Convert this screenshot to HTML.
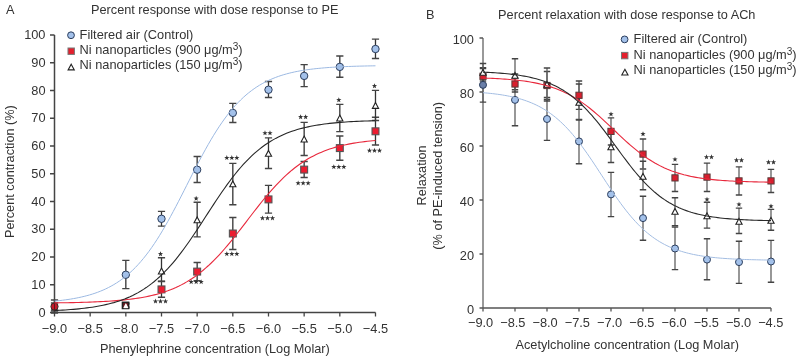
<!DOCTYPE html><html><head><meta charset="utf-8"><style>html,body{margin:0;padding:0;background:#fff;width:800px;height:361px;overflow:hidden}svg{display:block;will-change:transform}text{font-family:"Liberation Sans",sans-serif;fill:#333}</style></head><body>
<svg width="800" height="361" viewBox="0 0 800 361">

<text x="6" y="13.5" font-size="12.72" text-anchor="start" >A</text>
<text x="91" y="13.5" font-size="12.72" text-anchor="start" >Percent response with dose response to PE</text>
<path d="M54.5,35.0 V312.5 H375.485" stroke="#444" stroke-width="1.5" fill="none"/>
<text x="45.5" y="316.70" font-size="12.8" text-anchor="end" >0</text>
<text x="45.5" y="288.95" font-size="12.8" text-anchor="end" >10</text>
<text x="45.5" y="261.20" font-size="12.8" text-anchor="end" >20</text>
<text x="45.5" y="233.45" font-size="12.8" text-anchor="end" >30</text>
<text x="45.5" y="205.70" font-size="12.8" text-anchor="end" >40</text>
<text x="45.5" y="177.95" font-size="12.8" text-anchor="end" >50</text>
<text x="45.5" y="150.20" font-size="12.8" text-anchor="end" >60</text>
<text x="45.5" y="122.45" font-size="12.8" text-anchor="end" >70</text>
<text x="45.5" y="94.70" font-size="12.8" text-anchor="end" >80</text>
<text x="45.5" y="66.95" font-size="12.8" text-anchor="end" >90</text>
<text x="45.5" y="39.20" font-size="12.8" text-anchor="end" >100</text>
<text x="54.50" y="332.6" font-size="12.8" text-anchor="middle" >−9.0</text>
<text x="90.16" y="332.6" font-size="12.8" text-anchor="middle" >−8.5</text>
<text x="125.83" y="332.6" font-size="12.8" text-anchor="middle" >−8.0</text>
<text x="161.50" y="332.6" font-size="12.8" text-anchor="middle" >−7.5</text>
<text x="197.16" y="332.6" font-size="12.8" text-anchor="middle" >−7.0</text>
<text x="232.82" y="332.6" font-size="12.8" text-anchor="middle" >−6.5</text>
<text x="268.49" y="332.6" font-size="12.8" text-anchor="middle" >−6.0</text>
<text x="304.15" y="332.6" font-size="12.8" text-anchor="middle" >−5.5</text>
<text x="339.82" y="332.6" font-size="12.8" text-anchor="middle" >−5.0</text>
<text x="375.49" y="332.6" font-size="12.8" text-anchor="middle" >−4.5</text>
<path d="M50.0,312.50 H54.5 M50.0,284.75 H54.5 M50.0,257.00 H54.5 M50.0,229.25 H54.5 M50.0,201.50 H54.5 M50.0,173.75 H54.5 M50.0,146.00 H54.5 M50.0,118.25 H54.5 M50.0,90.50 H54.5 M50.0,62.75 H54.5 M50.0,35.00 H54.5 M54.50,312.5 V316.5 M90.16,312.5 V316.5 M125.83,312.5 V316.5 M161.50,312.5 V316.5 M197.16,312.5 V316.5 M232.82,312.5 V316.5 M268.49,312.5 V316.5 M304.15,312.5 V316.5 M339.82,312.5 V316.5 M375.49,312.5 V316.5" stroke="#444" stroke-width="1.3" fill="none"/>
<text x="214.9" y="353.2" font-size="12.72" text-anchor="middle" >Phenylephrine concentration (Log Molar)</text>
<text x="0" y="0" font-size="12.72" text-anchor="middle" transform="translate(13.6,171.6) rotate(-90)">Percent contraction (%)</text>
<path d="M54.5,300 V313" stroke="#333" stroke-width="1.3" fill="none"/>
<path d="M50.9,300 H58.1 M50.9,313 H58.1" stroke="#444" stroke-width="1.3" fill="none"/>
<path d="M125.83,260.4 V288.6" stroke="#333" stroke-width="1.3" fill="none"/>
<path d="M122.23,260.4 H129.43 M122.23,288.6 H129.43" stroke="#444" stroke-width="1.3" fill="none"/>
<path d="M161.495,211.4 V226.2" stroke="#333" stroke-width="1.3" fill="none"/>
<path d="M157.895,211.4 H165.095 M157.895,226.2 H165.095" stroke="#444" stroke-width="1.3" fill="none"/>
<path d="M197.16,156.5 V182.5" stroke="#333" stroke-width="1.3" fill="none"/>
<path d="M193.56,156.5 H200.76 M193.56,182.5 H200.76" stroke="#444" stroke-width="1.3" fill="none"/>
<path d="M232.825,103.4 V122.5" stroke="#333" stroke-width="1.3" fill="none"/>
<path d="M229.225,103.4 H236.42499999999998 M229.225,122.5 H236.42499999999998" stroke="#444" stroke-width="1.3" fill="none"/>
<path d="M268.49,81.5 V97.5" stroke="#333" stroke-width="1.3" fill="none"/>
<path d="M264.89,81.5 H272.09000000000003 M264.89,97.5 H272.09000000000003" stroke="#444" stroke-width="1.3" fill="none"/>
<path d="M304.155,64.6 V86.6" stroke="#333" stroke-width="1.3" fill="none"/>
<path d="M300.55499999999995,64.6 H307.755 M300.55499999999995,86.6 H307.755" stroke="#444" stroke-width="1.3" fill="none"/>
<path d="M339.82,56 V77.25" stroke="#333" stroke-width="1.3" fill="none"/>
<path d="M336.21999999999997,56 H343.42 M336.21999999999997,77.25 H343.42" stroke="#444" stroke-width="1.3" fill="none"/>
<path d="M375.485,39.1 V58.5" stroke="#333" stroke-width="1.3" fill="none"/>
<path d="M371.885,39.1 H379.08500000000004 M371.885,58.5 H379.08500000000004" stroke="#444" stroke-width="1.3" fill="none"/>
<path d="M54.5,303 V310" stroke="#333" stroke-width="1.3" fill="none"/>
<path d="M50.9,303 H58.1 M50.9,310 H58.1" stroke="#444" stroke-width="1.3" fill="none"/>
<path d="M125.83,303 V308" stroke="#333" stroke-width="1.3" fill="none"/>
<path d="M122.23,303 H129.43 M122.23,308 H129.43" stroke="#444" stroke-width="1.3" fill="none"/>
<path d="M161.495,281.5 V297.25" stroke="#333" stroke-width="1.3" fill="none"/>
<path d="M157.895,281.5 H165.095 M157.895,297.25 H165.095" stroke="#444" stroke-width="1.3" fill="none"/>
<path d="M197.16,262.5 V280.7" stroke="#333" stroke-width="1.3" fill="none"/>
<path d="M193.56,262.5 H200.76 M193.56,280.7 H200.76" stroke="#444" stroke-width="1.3" fill="none"/>
<path d="M232.825,217.5 V249.5" stroke="#333" stroke-width="1.3" fill="none"/>
<path d="M229.225,217.5 H236.42499999999998 M229.225,249.5 H236.42499999999998" stroke="#444" stroke-width="1.3" fill="none"/>
<path d="M268.49,185.4 V213.1" stroke="#333" stroke-width="1.3" fill="none"/>
<path d="M264.89,185.4 H272.09000000000003 M264.89,213.1 H272.09000000000003" stroke="#444" stroke-width="1.3" fill="none"/>
<path d="M304.155,161.5 V177.5" stroke="#333" stroke-width="1.3" fill="none"/>
<path d="M300.55499999999995,161.5 H307.755 M300.55499999999995,177.5 H307.755" stroke="#444" stroke-width="1.3" fill="none"/>
<path d="M339.82,136 V160.25" stroke="#333" stroke-width="1.3" fill="none"/>
<path d="M336.21999999999997,136 H343.42 M336.21999999999997,160.25 H343.42" stroke="#444" stroke-width="1.3" fill="none"/>
<path d="M375.485,117.25 V145" stroke="#333" stroke-width="1.3" fill="none"/>
<path d="M371.885,117.25 H379.08500000000004 M371.885,145 H379.08500000000004" stroke="#444" stroke-width="1.3" fill="none"/>
<path d="M54.5,305 V311" stroke="#333" stroke-width="1.3" fill="none"/>
<path d="M50.9,305 H58.1 M50.9,311 H58.1" stroke="#444" stroke-width="1.3" fill="none"/>
<path d="M125.83,304 V307" stroke="#333" stroke-width="1.3" fill="none"/>
<path d="M122.23,304 H129.43 M122.23,307 H129.43" stroke="#444" stroke-width="1.3" fill="none"/>
<path d="M161.495,257.75 V281.25" stroke="#333" stroke-width="1.3" fill="none"/>
<path d="M157.895,257.75 H165.095 M157.895,281.25 H165.095" stroke="#444" stroke-width="1.3" fill="none"/>
<path d="M197.16,202.25 V236.9" stroke="#333" stroke-width="1.3" fill="none"/>
<path d="M193.56,202.25 H200.76 M193.56,236.9 H200.76" stroke="#444" stroke-width="1.3" fill="none"/>
<path d="M232.825,163.4 V204.75" stroke="#333" stroke-width="1.3" fill="none"/>
<path d="M229.225,163.4 H236.42499999999998 M229.225,204.75 H236.42499999999998" stroke="#444" stroke-width="1.3" fill="none"/>
<path d="M268.49,137.9 V168.5" stroke="#333" stroke-width="1.3" fill="none"/>
<path d="M264.89,137.9 H272.09000000000003 M264.89,168.5 H272.09000000000003" stroke="#444" stroke-width="1.3" fill="none"/>
<path d="M304.155,122.3 V155.5" stroke="#333" stroke-width="1.3" fill="none"/>
<path d="M300.55499999999995,122.3 H307.755 M300.55499999999995,155.5 H307.755" stroke="#444" stroke-width="1.3" fill="none"/>
<path d="M339.82,104.4 V131.6" stroke="#333" stroke-width="1.3" fill="none"/>
<path d="M336.21999999999997,104.4 H343.42 M336.21999999999997,131.6 H343.42" stroke="#444" stroke-width="1.3" fill="none"/>
<path d="M375.485,90.4 V120.5" stroke="#333" stroke-width="1.3" fill="none"/>
<path d="M371.885,90.4 H379.08500000000004 M371.885,120.5 H379.08500000000004" stroke="#444" stroke-width="1.3" fill="none"/>
<circle cx="125.83" cy="274.75" r="3.7" fill="#a3c1ea" stroke="#2b3d5c" stroke-width="1"/>
<circle cx="161.495" cy="218.8" r="3.7" fill="#a3c1ea" stroke="#2b3d5c" stroke-width="1"/>
<circle cx="197.16" cy="169.75" r="3.7" fill="#a3c1ea" stroke="#2b3d5c" stroke-width="1"/>
<circle cx="232.825" cy="112.9" r="3.7" fill="#a3c1ea" stroke="#2b3d5c" stroke-width="1"/>
<circle cx="268.49" cy="89.75" r="3.7" fill="#a3c1ea" stroke="#2b3d5c" stroke-width="1"/>
<circle cx="304.155" cy="75.9" r="3.7" fill="#a3c1ea" stroke="#2b3d5c" stroke-width="1"/>
<circle cx="339.82" cy="66.9" r="3.7" fill="#a3c1ea" stroke="#2b3d5c" stroke-width="1"/>
<circle cx="375.485" cy="49" r="3.7" fill="#a3c1ea" stroke="#2b3d5c" stroke-width="1"/>
<rect x="158.04500000000002" y="285.95" width="6.9" height="6.9" fill="#ec1c30" stroke="#555" stroke-width="1.1"/>
<rect x="193.71" y="268.15000000000003" width="6.9" height="6.9" fill="#ec1c30" stroke="#555" stroke-width="1.1"/>
<rect x="229.375" y="230.05" width="6.9" height="6.9" fill="#ec1c30" stroke="#555" stroke-width="1.1"/>
<rect x="265.04" y="195.95000000000002" width="6.9" height="6.9" fill="#ec1c30" stroke="#555" stroke-width="1.1"/>
<rect x="300.705" y="166.15" width="6.9" height="6.9" fill="#ec1c30" stroke="#555" stroke-width="1.1"/>
<rect x="336.37" y="144.65" width="6.9" height="6.9" fill="#ec1c30" stroke="#555" stroke-width="1.1"/>
<rect x="372.035" y="127.85000000000001" width="6.9" height="6.9" fill="#ec1c30" stroke="#555" stroke-width="1.1"/>
<path d="M161.495,268.09999999999997 L164.595,274.0 L158.395,274.0 Z" fill="#fff" stroke="#222" stroke-width="1.1" stroke-linejoin="miter"/>
<path d="M197.16,216.89999999999998 L200.26,222.8 L194.06,222.8 Z" fill="#fff" stroke="#222" stroke-width="1.1" stroke-linejoin="miter"/>
<path d="M232.825,180.89999999999998 L235.92499999999998,186.8 L229.725,186.8 Z" fill="#fff" stroke="#222" stroke-width="1.1" stroke-linejoin="miter"/>
<path d="M268.49,150.39999999999998 L271.59000000000003,156.3 L265.39,156.3 Z" fill="#fff" stroke="#222" stroke-width="1.1" stroke-linejoin="miter"/>
<path d="M304.155,136.09999999999997 L307.255,142.0 L301.05499999999995,142.0 Z" fill="#fff" stroke="#222" stroke-width="1.1" stroke-linejoin="miter"/>
<path d="M339.82,115.10000000000001 L342.92,121.0 L336.71999999999997,121.0 Z" fill="#fff" stroke="#222" stroke-width="1.1" stroke-linejoin="miter"/>
<path d="M375.485,102.5 L378.58500000000004,108.39999999999999 L372.385,108.39999999999999 Z" fill="#fff" stroke="#222" stroke-width="1.1" stroke-linejoin="miter"/>
<circle cx="54.5" cy="306.6" r="3.6" fill="#c41a2c" stroke="#3a2a2a" stroke-width="1"/>
<path d="M54.5,302 V311" stroke="#5a1a20" stroke-width="1"/>
<rect x="122.43" y="302.29999999999995" width="6.2" height="6.2" fill="#6a1a20" stroke="#222" stroke-width="1.5"/>
<path d="M125.83,303.7 L127.92999999999999,307.79999999999995 L123.73,307.79999999999995 Z" fill="#fff" stroke="#fff" stroke-width="0.6" stroke-linejoin="miter"/>
<path d="M125.83,303.5 L128.03,307.9 L123.63,307.9 Z" fill="#fff"/>
<path transform="translate(160.50,254.00)" d="M0,-2.75 L0.66,-0.9 L2.62,-0.85 L1.07,0.34 L1.62,2.23 L0,1.14 L-1.62,2.23 L-1.07,0.34 L-2.62,-0.85 L-0.66,-0.9 Z" fill="#333"/>
<path transform="translate(155.50,301.30)" d="M0,-2.75 L0.66,-0.9 L2.62,-0.85 L1.07,0.34 L1.62,2.23 L0,1.14 L-1.62,2.23 L-1.07,0.34 L-2.62,-0.85 L-0.66,-0.9 Z" fill="#333"/>
<path transform="translate(160.50,301.30)" d="M0,-2.75 L0.66,-0.9 L2.62,-0.85 L1.07,0.34 L1.62,2.23 L0,1.14 L-1.62,2.23 L-1.07,0.34 L-2.62,-0.85 L-0.66,-0.9 Z" fill="#333"/>
<path transform="translate(165.50,301.30)" d="M0,-2.75 L0.66,-0.9 L2.62,-0.85 L1.07,0.34 L1.62,2.23 L0,1.14 L-1.62,2.23 L-1.07,0.34 L-2.62,-0.85 L-0.66,-0.9 Z" fill="#333"/>
<path transform="translate(196.16,198.50)" d="M0,-2.75 L0.66,-0.9 L2.62,-0.85 L1.07,0.34 L1.62,2.23 L0,1.14 L-1.62,2.23 L-1.07,0.34 L-2.62,-0.85 L-0.66,-0.9 Z" fill="#333"/>
<path transform="translate(191.16,281.90)" d="M0,-2.75 L0.66,-0.9 L2.62,-0.85 L1.07,0.34 L1.62,2.23 L0,1.14 L-1.62,2.23 L-1.07,0.34 L-2.62,-0.85 L-0.66,-0.9 Z" fill="#333"/>
<path transform="translate(196.16,281.90)" d="M0,-2.75 L0.66,-0.9 L2.62,-0.85 L1.07,0.34 L1.62,2.23 L0,1.14 L-1.62,2.23 L-1.07,0.34 L-2.62,-0.85 L-0.66,-0.9 Z" fill="#333"/>
<path transform="translate(201.16,281.90)" d="M0,-2.75 L0.66,-0.9 L2.62,-0.85 L1.07,0.34 L1.62,2.23 L0,1.14 L-1.62,2.23 L-1.07,0.34 L-2.62,-0.85 L-0.66,-0.9 Z" fill="#333"/>
<path transform="translate(226.82,157.80)" d="M0,-2.75 L0.66,-0.9 L2.62,-0.85 L1.07,0.34 L1.62,2.23 L0,1.14 L-1.62,2.23 L-1.07,0.34 L-2.62,-0.85 L-0.66,-0.9 Z" fill="#333"/>
<path transform="translate(231.82,157.80)" d="M0,-2.75 L0.66,-0.9 L2.62,-0.85 L1.07,0.34 L1.62,2.23 L0,1.14 L-1.62,2.23 L-1.07,0.34 L-2.62,-0.85 L-0.66,-0.9 Z" fill="#333"/>
<path transform="translate(236.82,157.80)" d="M0,-2.75 L0.66,-0.9 L2.62,-0.85 L1.07,0.34 L1.62,2.23 L0,1.14 L-1.62,2.23 L-1.07,0.34 L-2.62,-0.85 L-0.66,-0.9 Z" fill="#333"/>
<path transform="translate(226.82,253.90)" d="M0,-2.75 L0.66,-0.9 L2.62,-0.85 L1.07,0.34 L1.62,2.23 L0,1.14 L-1.62,2.23 L-1.07,0.34 L-2.62,-0.85 L-0.66,-0.9 Z" fill="#333"/>
<path transform="translate(231.82,253.90)" d="M0,-2.75 L0.66,-0.9 L2.62,-0.85 L1.07,0.34 L1.62,2.23 L0,1.14 L-1.62,2.23 L-1.07,0.34 L-2.62,-0.85 L-0.66,-0.9 Z" fill="#333"/>
<path transform="translate(236.82,253.90)" d="M0,-2.75 L0.66,-0.9 L2.62,-0.85 L1.07,0.34 L1.62,2.23 L0,1.14 L-1.62,2.23 L-1.07,0.34 L-2.62,-0.85 L-0.66,-0.9 Z" fill="#333"/>
<path transform="translate(264.99,133.10)" d="M0,-2.75 L0.66,-0.9 L2.62,-0.85 L1.07,0.34 L1.62,2.23 L0,1.14 L-1.62,2.23 L-1.07,0.34 L-2.62,-0.85 L-0.66,-0.9 Z" fill="#333"/>
<path transform="translate(269.99,133.10)" d="M0,-2.75 L0.66,-0.9 L2.62,-0.85 L1.07,0.34 L1.62,2.23 L0,1.14 L-1.62,2.23 L-1.07,0.34 L-2.62,-0.85 L-0.66,-0.9 Z" fill="#333"/>
<path transform="translate(262.49,218.20)" d="M0,-2.75 L0.66,-0.9 L2.62,-0.85 L1.07,0.34 L1.62,2.23 L0,1.14 L-1.62,2.23 L-1.07,0.34 L-2.62,-0.85 L-0.66,-0.9 Z" fill="#333"/>
<path transform="translate(267.49,218.20)" d="M0,-2.75 L0.66,-0.9 L2.62,-0.85 L1.07,0.34 L1.62,2.23 L0,1.14 L-1.62,2.23 L-1.07,0.34 L-2.62,-0.85 L-0.66,-0.9 Z" fill="#333"/>
<path transform="translate(272.49,218.20)" d="M0,-2.75 L0.66,-0.9 L2.62,-0.85 L1.07,0.34 L1.62,2.23 L0,1.14 L-1.62,2.23 L-1.07,0.34 L-2.62,-0.85 L-0.66,-0.9 Z" fill="#333"/>
<path transform="translate(300.65,117.00)" d="M0,-2.75 L0.66,-0.9 L2.62,-0.85 L1.07,0.34 L1.62,2.23 L0,1.14 L-1.62,2.23 L-1.07,0.34 L-2.62,-0.85 L-0.66,-0.9 Z" fill="#333"/>
<path transform="translate(305.65,117.00)" d="M0,-2.75 L0.66,-0.9 L2.62,-0.85 L1.07,0.34 L1.62,2.23 L0,1.14 L-1.62,2.23 L-1.07,0.34 L-2.62,-0.85 L-0.66,-0.9 Z" fill="#333"/>
<path transform="translate(298.15,183.20)" d="M0,-2.75 L0.66,-0.9 L2.62,-0.85 L1.07,0.34 L1.62,2.23 L0,1.14 L-1.62,2.23 L-1.07,0.34 L-2.62,-0.85 L-0.66,-0.9 Z" fill="#333"/>
<path transform="translate(303.15,183.20)" d="M0,-2.75 L0.66,-0.9 L2.62,-0.85 L1.07,0.34 L1.62,2.23 L0,1.14 L-1.62,2.23 L-1.07,0.34 L-2.62,-0.85 L-0.66,-0.9 Z" fill="#333"/>
<path transform="translate(308.15,183.20)" d="M0,-2.75 L0.66,-0.9 L2.62,-0.85 L1.07,0.34 L1.62,2.23 L0,1.14 L-1.62,2.23 L-1.07,0.34 L-2.62,-0.85 L-0.66,-0.9 Z" fill="#333"/>
<path transform="translate(338.82,100.00)" d="M0,-2.75 L0.66,-0.9 L2.62,-0.85 L1.07,0.34 L1.62,2.23 L0,1.14 L-1.62,2.23 L-1.07,0.34 L-2.62,-0.85 L-0.66,-0.9 Z" fill="#333"/>
<path transform="translate(333.82,166.90)" d="M0,-2.75 L0.66,-0.9 L2.62,-0.85 L1.07,0.34 L1.62,2.23 L0,1.14 L-1.62,2.23 L-1.07,0.34 L-2.62,-0.85 L-0.66,-0.9 Z" fill="#333"/>
<path transform="translate(338.82,166.90)" d="M0,-2.75 L0.66,-0.9 L2.62,-0.85 L1.07,0.34 L1.62,2.23 L0,1.14 L-1.62,2.23 L-1.07,0.34 L-2.62,-0.85 L-0.66,-0.9 Z" fill="#333"/>
<path transform="translate(343.82,166.90)" d="M0,-2.75 L0.66,-0.9 L2.62,-0.85 L1.07,0.34 L1.62,2.23 L0,1.14 L-1.62,2.23 L-1.07,0.34 L-2.62,-0.85 L-0.66,-0.9 Z" fill="#333"/>
<path transform="translate(374.49,86.00)" d="M0,-2.75 L0.66,-0.9 L2.62,-0.85 L1.07,0.34 L1.62,2.23 L0,1.14 L-1.62,2.23 L-1.07,0.34 L-2.62,-0.85 L-0.66,-0.9 Z" fill="#333"/>
<path transform="translate(369.49,150.60)" d="M0,-2.75 L0.66,-0.9 L2.62,-0.85 L1.07,0.34 L1.62,2.23 L0,1.14 L-1.62,2.23 L-1.07,0.34 L-2.62,-0.85 L-0.66,-0.9 Z" fill="#333"/>
<path transform="translate(374.49,150.60)" d="M0,-2.75 L0.66,-0.9 L2.62,-0.85 L1.07,0.34 L1.62,2.23 L0,1.14 L-1.62,2.23 L-1.07,0.34 L-2.62,-0.85 L-0.66,-0.9 Z" fill="#333"/>
<path transform="translate(379.49,150.60)" d="M0,-2.75 L0.66,-0.9 L2.62,-0.85 L1.07,0.34 L1.62,2.23 L0,1.14 L-1.62,2.23 L-1.07,0.34 L-2.62,-0.85 L-0.66,-0.9 Z" fill="#333"/>
<polyline points="54.50,301.11 57.20,300.84 59.89,300.55 62.59,300.22 65.29,299.87 67.99,299.49 70.68,299.08 73.38,298.62 76.08,298.13 78.78,297.59 81.47,297.01 84.17,296.37 86.87,295.68 89.57,294.93 92.26,294.11 94.96,293.23 97.66,292.27 100.35,291.23 103.05,290.10 105.75,288.88 108.45,287.56 111.14,286.14 113.84,284.60 116.54,282.95 119.24,281.17 121.93,279.25 124.63,277.20 127.33,274.99 130.03,272.64 132.72,270.12 135.42,267.44 138.12,264.59 140.82,261.56 143.51,258.35 146.21,254.96 148.91,251.39 151.60,247.63 154.30,243.70 157.00,239.58 159.70,235.30 162.39,230.85 165.09,226.24 167.79,221.49 170.49,216.60 173.18,211.60 175.88,206.49 178.58,201.31 181.28,196.05 183.97,190.75 186.67,185.43 189.37,180.11 192.06,174.80 194.76,169.53 197.46,164.32 200.16,159.19 202.85,154.16 205.55,149.24 208.25,144.45 210.95,139.80 213.64,135.31 216.34,130.97 219.04,126.81 221.74,122.83 224.43,119.02 227.13,115.40 229.83,111.96 232.53,108.70 235.22,105.62 237.92,102.72 240.62,99.99 243.31,97.43 246.01,95.03 248.71,92.79 251.41,90.69 254.10,88.74 256.80,86.92 259.50,85.23 262.20,83.66 264.89,82.21 267.59,80.86 270.29,79.62 272.99,78.47 275.68,77.40 278.38,76.42 281.08,75.51 283.77,74.68 286.47,73.91 289.17,73.20 291.87,72.55 294.56,71.95 297.26,71.40 299.96,70.90 302.66,70.43 305.35,70.01 308.05,69.62 310.75,69.26 313.45,68.93 316.14,68.63 318.84,68.35 321.54,68.10 324.24,67.86 326.93,67.65 329.63,67.45 332.33,67.28 335.02,67.11 337.72,66.96 340.42,66.82 343.12,66.70 345.81,66.58 348.51,66.48 351.21,66.38 353.91,66.29 356.60,66.21 359.30,66.14 362.00,66.07 364.70,66.01 367.39,65.95 370.09,65.90 372.79,65.85 375.49,65.81" fill="none" stroke="#9cb9e2" stroke-width="1.0"/>
<polyline points="54.50,302.89 57.20,302.85 59.89,302.82 62.59,302.78 65.29,302.73 67.99,302.69 70.68,302.63 73.38,302.58 76.08,302.52 78.78,302.45 81.47,302.38 84.17,302.30 86.87,302.22 89.57,302.12 92.26,302.02 94.96,301.91 97.66,301.80 100.35,301.67 103.05,301.53 105.75,301.37 108.45,301.21 111.14,301.03 113.84,300.83 116.54,300.62 119.24,300.39 121.93,300.14 124.63,299.87 127.33,299.57 130.03,299.25 132.72,298.90 135.42,298.53 138.12,298.12 140.82,297.68 143.51,297.20 146.21,296.69 148.91,296.13 151.60,295.52 154.30,294.87 157.00,294.17 159.70,293.41 162.39,292.59 165.09,291.71 167.79,290.76 170.49,289.74 173.18,288.64 175.88,287.47 178.58,286.21 181.28,284.87 183.97,283.43 186.67,281.90 189.37,280.26 192.06,278.53 194.76,276.68 197.46,274.73 200.16,272.66 202.85,270.49 205.55,268.19 208.25,265.78 210.95,263.26 213.64,260.62 216.34,257.88 219.04,255.02 221.74,252.06 224.43,249.01 227.13,245.86 229.83,242.63 232.53,239.32 235.22,235.95 237.92,232.53 240.62,229.07 243.31,225.57 246.01,222.05 248.71,218.53 251.41,215.02 254.10,211.52 256.80,208.06 259.50,204.64 262.20,201.28 264.89,197.98 267.59,194.75 270.29,191.61 272.99,188.57 275.68,185.62 278.38,182.77 281.08,180.03 283.77,177.40 286.47,174.89 289.17,172.49 291.87,170.20 294.56,168.04 297.26,165.98 299.96,164.04 302.66,162.20 305.35,160.47 308.05,158.85 310.75,157.32 313.45,155.89 316.14,154.55 318.84,153.30 321.54,152.14 324.24,151.05 326.93,150.03 329.63,149.09 332.33,148.22 335.02,147.40 337.72,146.65 340.42,145.95 343.12,145.30 345.81,144.70 348.51,144.14 351.21,143.63 353.91,143.16 356.60,142.72 359.30,142.31 362.00,141.94 364.70,141.59 367.39,141.28 370.09,140.98 372.79,140.71 375.49,140.46" fill="none" stroke="#e8283c" stroke-width="1.1"/>
<polyline points="54.50,310.53 57.20,310.40 59.89,310.25 62.59,310.10 65.29,309.93 67.99,309.75 70.68,309.55 73.38,309.33 76.08,309.09 78.78,308.84 81.47,308.56 84.17,308.25 86.87,307.92 89.57,307.56 92.26,307.17 94.96,306.75 97.66,306.29 100.35,305.79 103.05,305.25 105.75,304.66 108.45,304.03 111.14,303.34 113.84,302.60 116.54,301.79 119.24,300.92 121.93,299.98 124.63,298.97 127.33,297.87 130.03,296.70 132.72,295.43 135.42,294.07 138.12,292.61 140.82,291.05 143.51,289.37 146.21,287.58 148.91,285.67 151.60,283.64 154.30,281.48 157.00,279.19 159.70,276.76 162.39,274.20 165.09,271.49 167.79,268.65 170.49,265.67 173.18,262.55 175.88,259.30 178.58,255.92 181.28,252.41 183.97,248.79 186.67,245.05 189.37,241.22 192.06,237.30 194.76,233.30 197.46,229.24 200.16,225.13 202.85,220.99 205.55,216.82 208.25,212.66 210.95,208.50 213.64,204.38 216.34,200.29 219.04,196.26 221.74,192.31 224.43,188.44 227.13,184.66 229.83,180.99 232.53,177.43 235.22,173.99 237.92,170.68 240.62,167.51 243.31,164.46 246.01,161.56 248.71,158.80 251.41,156.17 254.10,153.69 256.80,151.34 259.50,149.12 262.20,147.03 264.89,145.07 267.59,143.23 270.29,141.50 272.99,139.89 275.68,138.39 278.38,136.99 281.08,135.68 283.77,134.47 286.47,133.34 289.17,132.29 291.87,131.32 294.56,130.42 297.26,129.58 299.96,128.81 302.66,128.10 305.35,127.44 308.05,126.84 310.75,126.28 313.45,125.76 316.14,125.28 318.84,124.84 321.54,124.44 324.24,124.07 326.93,123.73 329.63,123.41 332.33,123.12 335.02,122.85 337.72,122.61 340.42,122.38 343.12,122.18 345.81,121.99 348.51,121.81 351.21,121.65 353.91,121.50 356.60,121.37 359.30,121.24 362.00,121.13 364.70,121.03 367.39,120.93 370.09,120.84 372.79,120.76 375.49,120.69" fill="none" stroke="#262626" stroke-width="1.1"/>
<circle cx="71" cy="35.25" r="3.4" fill="#a3c1ea" stroke="#2b3d5c" stroke-width="1"/>
<rect x="68.0" y="48.0" width="6.4" height="6.4" fill="#e41f2d" stroke="#777" stroke-width="1"/>
<path d="M71.2,64.2 L74.3,69.9 L68.10000000000001,69.9 Z" fill="#fff" stroke="#222" stroke-width="1.1" stroke-linejoin="miter"/>
<text x="79.6" y="38.75" font-size="12.8" text-anchor="start" >Filtered air (Control)</text>
<text x="79.6" y="53.75" font-size="12.8" text-anchor="start" >Ni nanoparticles (900 μg/m<tspan font-size="10" dy="-3.4">3</tspan><tspan dy="3.4">)</tspan></text>
<text x="79.6" y="68.75" font-size="12.8" text-anchor="start" >Ni nanoparticles (150 μg/m<tspan font-size="10" dy="-3.4">3</tspan><tspan dy="3.4">)</tspan></text>
<text x="426" y="18.75" font-size="12.72" text-anchor="start" >B</text>
<text x="498.1" y="18.75" font-size="12.72" text-anchor="start" >Percent relaxation with dose response to ACh</text>
<path d="M483.0,38.0 V308.0" stroke="#999" stroke-width="2" fill="none"/>
<path d="M483.0,308.0 H771.0" stroke="#555" stroke-width="1.6" fill="none"/>
<text x="474" y="313.80" font-size="12.8" text-anchor="end" >0</text>
<text x="474" y="259.80" font-size="12.8" text-anchor="end" >20</text>
<text x="474" y="205.80" font-size="12.8" text-anchor="end" >40</text>
<text x="474" y="151.80" font-size="12.8" text-anchor="end" >60</text>
<text x="474" y="97.80" font-size="12.8" text-anchor="end" >80</text>
<text x="474" y="43.80" font-size="12.8" text-anchor="end" >100</text>
<text x="480.60" y="327.2" font-size="12.8" text-anchor="middle" >−9.0</text>
<text x="512.84" y="327.2" font-size="12.8" text-anchor="middle" >−8.5</text>
<text x="545.08" y="327.2" font-size="12.8" text-anchor="middle" >−8.0</text>
<text x="577.32" y="327.2" font-size="12.8" text-anchor="middle" >−7.5</text>
<text x="609.56" y="327.2" font-size="12.8" text-anchor="middle" >−7.0</text>
<text x="641.80" y="327.2" font-size="12.8" text-anchor="middle" >−6.5</text>
<text x="674.04" y="327.2" font-size="12.8" text-anchor="middle" >−6.0</text>
<text x="706.28" y="327.2" font-size="12.8" text-anchor="middle" >−5.5</text>
<text x="738.52" y="327.2" font-size="12.8" text-anchor="middle" >−5.0</text>
<text x="770.76" y="327.2" font-size="12.8" text-anchor="middle" >−4.5</text>
<path d="M479.5,308.00 H483.0 M479.5,254.00 H483.0 M479.5,200.00 H483.0 M479.5,146.00 H483.0 M479.5,92.00 H483.0 M479.5,38.00 H483.0 M483.00,308.0 V311.6 M515.00,308.0 V311.6 M547.00,308.0 V311.6 M579.00,308.0 V311.6 M611.00,308.0 V311.6 M643.00,308.0 V311.6 M675.00,308.0 V311.6 M707.00,308.0 V311.6 M739.00,308.0 V311.6 M771.00,308.0 V311.6" stroke="#555" stroke-width="1.3" fill="none"/>
<text x="627.2" y="348.6" font-size="12.72" text-anchor="middle" >Acetylcholine concentration (Log Molar)</text>
<text x="0" y="0" font-size="12.72" text-anchor="middle" transform="translate(425.6,175.4) rotate(-90)">Relaxation</text>
<text x="0" y="0" font-size="12.72" text-anchor="middle" transform="translate(441.8,175.8) rotate(-90)">(% of PE-induced tension)</text>
<path d="M483.0,67.7 V102.1" stroke="#606060" stroke-width="1.3" fill="none"/>
<path d="M479.8,67.7 H486.2 M479.8,102.1 H486.2" stroke="#444" stroke-width="1.3" fill="none"/>
<path d="M515.0,74 V125.75" stroke="#606060" stroke-width="1.3" fill="none"/>
<path d="M511.8,74 H518.2 M511.8,125.75 H518.2" stroke="#444" stroke-width="1.3" fill="none"/>
<path d="M547.0,97.5 V140.4" stroke="#606060" stroke-width="1.3" fill="none"/>
<path d="M543.8,97.5 H550.2 M543.8,140.4 H550.2" stroke="#444" stroke-width="1.3" fill="none"/>
<path d="M579.0,119.4 V163.75" stroke="#606060" stroke-width="1.3" fill="none"/>
<path d="M575.8,119.4 H582.2 M575.8,163.75 H582.2" stroke="#444" stroke-width="1.3" fill="none"/>
<path d="M611.0,172.3 V216.6" stroke="#606060" stroke-width="1.3" fill="none"/>
<path d="M607.8,172.3 H614.2 M607.8,216.6 H614.2" stroke="#444" stroke-width="1.3" fill="none"/>
<path d="M643.0,196.25 V240.25" stroke="#606060" stroke-width="1.3" fill="none"/>
<path d="M639.8,196.25 H646.2 M639.8,240.25 H646.2" stroke="#444" stroke-width="1.3" fill="none"/>
<path d="M675.0,227 V269.6" stroke="#606060" stroke-width="1.3" fill="none"/>
<path d="M671.8,227 H678.2 M671.8,269.6 H678.2" stroke="#444" stroke-width="1.3" fill="none"/>
<path d="M707.0,238.75 V279.75" stroke="#606060" stroke-width="1.3" fill="none"/>
<path d="M703.8,238.75 H710.2 M703.8,279.75 H710.2" stroke="#444" stroke-width="1.3" fill="none"/>
<path d="M739.0,241.25 V283.4" stroke="#606060" stroke-width="1.3" fill="none"/>
<path d="M735.8,241.25 H742.2 M735.8,283.4 H742.2" stroke="#444" stroke-width="1.3" fill="none"/>
<path d="M771.0,240.4 V282.25" stroke="#606060" stroke-width="1.3" fill="none"/>
<path d="M767.8,240.4 H774.2 M767.8,282.25 H774.2" stroke="#444" stroke-width="1.3" fill="none"/>
<path d="M483.0,68.5 V84" stroke="#606060" stroke-width="1.3" fill="none"/>
<path d="M479.8,68.5 H486.2 M479.8,84 H486.2" stroke="#444" stroke-width="1.3" fill="none"/>
<path d="M515.0,78 V89.75" stroke="#606060" stroke-width="1.3" fill="none"/>
<path d="M511.8,78 H518.2 M511.8,89.75 H518.2" stroke="#444" stroke-width="1.3" fill="none"/>
<path d="M547.0,71.5 V99.5" stroke="#606060" stroke-width="1.3" fill="none"/>
<path d="M543.8,71.5 H550.2 M543.8,99.5 H550.2" stroke="#444" stroke-width="1.3" fill="none"/>
<path d="M579.0,81 V109.4" stroke="#606060" stroke-width="1.3" fill="none"/>
<path d="M575.8,81 H582.2 M575.8,109.4 H582.2" stroke="#444" stroke-width="1.3" fill="none"/>
<path d="M611.0,117.9 V145" stroke="#606060" stroke-width="1.3" fill="none"/>
<path d="M607.8,117.9 H614.2 M607.8,145 H614.2" stroke="#444" stroke-width="1.3" fill="none"/>
<path d="M643.0,139 V169" stroke="#606060" stroke-width="1.3" fill="none"/>
<path d="M639.8,139 H646.2 M639.8,169 H646.2" stroke="#444" stroke-width="1.3" fill="none"/>
<path d="M675.0,164.4 V191.5" stroke="#606060" stroke-width="1.3" fill="none"/>
<path d="M671.8,164.4 H678.2 M671.8,191.5 H678.2" stroke="#444" stroke-width="1.3" fill="none"/>
<path d="M707.0,163.1 V191.5" stroke="#606060" stroke-width="1.3" fill="none"/>
<path d="M703.8,163.1 H710.2 M703.8,191.5 H710.2" stroke="#444" stroke-width="1.3" fill="none"/>
<path d="M739.0,166.9 V195" stroke="#606060" stroke-width="1.3" fill="none"/>
<path d="M735.8,166.9 H742.2 M735.8,195 H742.2" stroke="#444" stroke-width="1.3" fill="none"/>
<path d="M771.0,169.4 V192.5" stroke="#606060" stroke-width="1.3" fill="none"/>
<path d="M767.8,169.4 H774.2 M767.8,192.5 H774.2" stroke="#444" stroke-width="1.3" fill="none"/>
<path d="M483.0,63.5 V81" stroke="#606060" stroke-width="1.3" fill="none"/>
<path d="M479.8,63.5 H486.2 M479.8,81 H486.2" stroke="#444" stroke-width="1.3" fill="none"/>
<path d="M515.0,58.75 V92" stroke="#606060" stroke-width="1.3" fill="none"/>
<path d="M511.8,58.75 H518.2 M511.8,92 H518.2" stroke="#444" stroke-width="1.3" fill="none"/>
<path d="M547.0,68 V101" stroke="#606060" stroke-width="1.3" fill="none"/>
<path d="M543.8,68 H550.2 M543.8,101 H550.2" stroke="#444" stroke-width="1.3" fill="none"/>
<path d="M579.0,84 V120" stroke="#606060" stroke-width="1.3" fill="none"/>
<path d="M575.8,84 H582.2 M575.8,120 H582.2" stroke="#444" stroke-width="1.3" fill="none"/>
<path d="M611.0,131.5 V162.5" stroke="#606060" stroke-width="1.3" fill="none"/>
<path d="M607.8,131.5 H614.2 M607.8,162.5 H614.2" stroke="#444" stroke-width="1.3" fill="none"/>
<path d="M643.0,161.25 V189.75" stroke="#606060" stroke-width="1.3" fill="none"/>
<path d="M639.8,161.25 H646.2 M639.8,189.75 H646.2" stroke="#444" stroke-width="1.3" fill="none"/>
<path d="M675.0,197.75 V225.6" stroke="#606060" stroke-width="1.3" fill="none"/>
<path d="M671.8,197.75 H678.2 M671.8,225.6 H678.2" stroke="#444" stroke-width="1.3" fill="none"/>
<path d="M707.0,202.25 V228.1" stroke="#606060" stroke-width="1.3" fill="none"/>
<path d="M703.8,202.25 H710.2 M703.8,228.1 H710.2" stroke="#444" stroke-width="1.3" fill="none"/>
<path d="M739.0,208.1 V233.5" stroke="#606060" stroke-width="1.3" fill="none"/>
<path d="M735.8,208.1 H742.2 M735.8,233.5 H742.2" stroke="#444" stroke-width="1.3" fill="none"/>
<path d="M771.0,209.4 V230.25" stroke="#606060" stroke-width="1.3" fill="none"/>
<path d="M767.8,209.4 H774.2 M767.8,230.25 H774.2" stroke="#444" stroke-width="1.3" fill="none"/>
<circle cx="483.0" cy="84.9" r="3.5" fill="#6a7fa8" stroke="#2b3d5c" stroke-width="1"/>
<circle cx="515.0" cy="99.9" r="3.5" fill="#a3c1ea" stroke="#2b3d5c" stroke-width="1"/>
<circle cx="547.0" cy="119" r="3.5" fill="#a3c1ea" stroke="#2b3d5c" stroke-width="1"/>
<circle cx="579.0" cy="141.4" r="3.5" fill="#a3c1ea" stroke="#2b3d5c" stroke-width="1"/>
<circle cx="611.0" cy="194.4" r="3.5" fill="#a3c1ea" stroke="#2b3d5c" stroke-width="1"/>
<circle cx="643.0" cy="218.1" r="3.5" fill="#a3c1ea" stroke="#2b3d5c" stroke-width="1"/>
<circle cx="675.0" cy="248.5" r="3.5" fill="#a3c1ea" stroke="#2b3d5c" stroke-width="1"/>
<circle cx="707.0" cy="259.6" r="3.5" fill="#a3c1ea" stroke="#2b3d5c" stroke-width="1"/>
<circle cx="739.0" cy="262.1" r="3.5" fill="#a3c1ea" stroke="#2b3d5c" stroke-width="1"/>
<circle cx="771.0" cy="261.5" r="3.5" fill="#a3c1ea" stroke="#2b3d5c" stroke-width="1"/>
<rect x="479.9" y="73.2" width="6.2" height="6.2" fill="#d91f2e" stroke="#5a3a3a" stroke-width="1"/>
<rect x="511.9" y="80.9" width="6.2" height="6.2" fill="#d91f2e" stroke="#5a3a3a" stroke-width="1"/>
<rect x="543.9" y="82.4" width="6.2" height="6.2" fill="#d91f2e" stroke="#5a3a3a" stroke-width="1"/>
<rect x="575.9" y="92.2" width="6.2" height="6.2" fill="#d91f2e" stroke="#5a3a3a" stroke-width="1"/>
<rect x="607.9" y="128.3" width="6.2" height="6.2" fill="#d91f2e" stroke="#5a3a3a" stroke-width="1"/>
<rect x="639.9" y="151.0" width="6.2" height="6.2" fill="#d91f2e" stroke="#5a3a3a" stroke-width="1"/>
<rect x="671.9" y="174.8" width="6.2" height="6.2" fill="#d91f2e" stroke="#5a3a3a" stroke-width="1"/>
<rect x="703.9" y="174.0" width="6.2" height="6.2" fill="#d91f2e" stroke="#5a3a3a" stroke-width="1"/>
<rect x="735.9" y="177.8" width="6.2" height="6.2" fill="#d91f2e" stroke="#5a3a3a" stroke-width="1"/>
<rect x="767.9" y="177.8" width="6.2" height="6.2" fill="#d91f2e" stroke="#5a3a3a" stroke-width="1"/>
<path d="M483.0,69.5 L486.1,75.2 L479.9,75.2 Z" fill="#fff" stroke="#222" stroke-width="1.1" stroke-linejoin="miter"/>
<path d="M515.0,72.5 L518.1,78.2 L511.9,78.2 Z" fill="#fff" stroke="#222" stroke-width="1.1" stroke-linejoin="miter"/>
<path d="M547.0,81.5 L550.1,87.2 L543.9,87.2 Z" fill="#fff" stroke="#222" stroke-width="1.1" stroke-linejoin="miter"/>
<path d="M579.0,99.5 L582.1,105.2 L575.9,105.2 Z" fill="#fff" stroke="#222" stroke-width="1.1" stroke-linejoin="miter"/>
<path d="M611.0,144.0 L614.1,149.7 L607.9,149.7 Z" fill="#fff" stroke="#222" stroke-width="1.1" stroke-linejoin="miter"/>
<path d="M643.0,173.5 L646.1,179.2 L639.9,179.2 Z" fill="#fff" stroke="#222" stroke-width="1.1" stroke-linejoin="miter"/>
<path d="M675.0,208.5 L678.1,214.2 L671.9,214.2 Z" fill="#fff" stroke="#222" stroke-width="1.1" stroke-linejoin="miter"/>
<path d="M707.0,213.0 L710.1,218.7 L703.9,218.7 Z" fill="#fff" stroke="#222" stroke-width="1.1" stroke-linejoin="miter"/>
<path d="M739.0,218.5 L742.1,224.2 L735.9,224.2 Z" fill="#fff" stroke="#222" stroke-width="1.1" stroke-linejoin="miter"/>
<path d="M771.0,217.5 L774.1,223.2 L767.9,223.2 Z" fill="#fff" stroke="#222" stroke-width="1.1" stroke-linejoin="miter"/>
<path transform="translate(611.00,114.20)" d="M0,-2.75 L0.66,-0.9 L2.62,-0.85 L1.07,0.34 L1.62,2.23 L0,1.14 L-1.62,2.23 L-1.07,0.34 L-2.62,-0.85 L-0.66,-0.9 Z" fill="#333"/>
<path transform="translate(643.00,134.00)" d="M0,-2.75 L0.66,-0.9 L2.62,-0.85 L1.07,0.34 L1.62,2.23 L0,1.14 L-1.62,2.23 L-1.07,0.34 L-2.62,-0.85 L-0.66,-0.9 Z" fill="#333"/>
<path transform="translate(675.00,159.40)" d="M0,-2.75 L0.66,-0.9 L2.62,-0.85 L1.07,0.34 L1.62,2.23 L0,1.14 L-1.62,2.23 L-1.07,0.34 L-2.62,-0.85 L-0.66,-0.9 Z" fill="#333"/>
<path transform="translate(706.50,157.10)" d="M0,-2.75 L0.66,-0.9 L2.62,-0.85 L1.07,0.34 L1.62,2.23 L0,1.14 L-1.62,2.23 L-1.07,0.34 L-2.62,-0.85 L-0.66,-0.9 Z" fill="#333"/>
<path transform="translate(711.50,157.10)" d="M0,-2.75 L0.66,-0.9 L2.62,-0.85 L1.07,0.34 L1.62,2.23 L0,1.14 L-1.62,2.23 L-1.07,0.34 L-2.62,-0.85 L-0.66,-0.9 Z" fill="#333"/>
<path transform="translate(736.50,160.25)" d="M0,-2.75 L0.66,-0.9 L2.62,-0.85 L1.07,0.34 L1.62,2.23 L0,1.14 L-1.62,2.23 L-1.07,0.34 L-2.62,-0.85 L-0.66,-0.9 Z" fill="#333"/>
<path transform="translate(741.50,160.25)" d="M0,-2.75 L0.66,-0.9 L2.62,-0.85 L1.07,0.34 L1.62,2.23 L0,1.14 L-1.62,2.23 L-1.07,0.34 L-2.62,-0.85 L-0.66,-0.9 Z" fill="#333"/>
<path transform="translate(768.50,162.25)" d="M0,-2.75 L0.66,-0.9 L2.62,-0.85 L1.07,0.34 L1.62,2.23 L0,1.14 L-1.62,2.23 L-1.07,0.34 L-2.62,-0.85 L-0.66,-0.9 Z" fill="#333"/>
<path transform="translate(773.50,162.25)" d="M0,-2.75 L0.66,-0.9 L2.62,-0.85 L1.07,0.34 L1.62,2.23 L0,1.14 L-1.62,2.23 L-1.07,0.34 L-2.62,-0.85 L-0.66,-0.9 Z" fill="#333"/>
<path transform="translate(707.00,199.40)" d="M0,-2.75 L0.66,-0.9 L2.62,-0.85 L1.07,0.34 L1.62,2.23 L0,1.14 L-1.62,2.23 L-1.07,0.34 L-2.62,-0.85 L-0.66,-0.9 Z" fill="#333"/>
<path transform="translate(739.00,204.40)" d="M0,-2.75 L0.66,-0.9 L2.62,-0.85 L1.07,0.34 L1.62,2.23 L0,1.14 L-1.62,2.23 L-1.07,0.34 L-2.62,-0.85 L-0.66,-0.9 Z" fill="#333"/>
<path transform="translate(771.00,206.25)" d="M0,-2.75 L0.66,-0.9 L2.62,-0.85 L1.07,0.34 L1.62,2.23 L0,1.14 L-1.62,2.23 L-1.07,0.34 L-2.62,-0.85 L-0.66,-0.9 Z" fill="#333"/>
<polyline points="483.00,92.70 485.42,92.91 487.84,93.14 490.26,93.38 492.68,93.65 495.10,93.94 497.52,94.26 499.94,94.60 502.36,94.97 504.78,95.38 507.20,95.82 509.62,96.30 512.04,96.82 514.46,97.38 516.88,97.99 519.30,98.65 521.72,99.36 524.14,100.13 526.56,100.97 528.98,101.87 531.40,102.84 533.82,103.88 536.24,105.01 538.66,106.22 541.08,107.51 543.50,108.91 545.92,110.40 548.34,111.99 550.76,113.69 553.18,115.51 555.61,117.43 558.03,119.48 560.45,121.65 562.87,123.93 565.29,126.35 567.71,128.89 570.13,131.55 572.55,134.34 574.97,137.24 577.39,140.26 579.81,143.40 582.23,146.63 584.65,149.97 587.07,153.39 589.49,156.89 591.91,160.46 594.33,164.08 596.75,167.75 599.17,171.44 601.59,175.15 604.01,178.87 606.43,182.56 608.85,186.23 611.27,189.86 613.69,193.44 616.11,196.95 618.53,200.39 620.95,203.74 623.37,206.99 625.79,210.14 628.21,213.17 630.63,216.10 633.05,218.90 635.47,221.58 637.89,224.14 640.31,226.57 642.73,228.88 645.15,231.06 647.57,233.12 649.99,235.07 652.41,236.89 654.83,238.61 657.25,240.22 659.67,241.73 662.09,243.13 664.51,244.44 666.93,245.67 669.35,246.80 671.77,247.86 674.19,248.84 676.61,249.75 679.03,250.59 681.45,251.37 683.87,252.09 686.29,252.76 688.71,253.38 691.13,253.95 693.55,254.47 695.97,254.95 698.39,255.40 700.82,255.81 703.24,256.19 705.66,256.54 708.08,256.86 710.50,257.15 712.92,257.42 715.34,257.67 717.76,257.90 720.18,258.11 722.60,258.30 725.02,258.48 727.44,258.64 729.86,258.79 732.28,258.93 734.70,259.06 737.12,259.17 739.54,259.28 741.96,259.37 744.38,259.46 746.80,259.55 749.22,259.62 751.64,259.69 754.06,259.75 756.48,259.81 758.90,259.86 761.32,259.91 763.74,259.96 766.16,260.00 768.58,260.04 771.00,260.07" fill="none" stroke="#a3bde2" stroke-width="1.0"/>
<polyline points="483.00,78.00 485.42,78.09 487.84,78.18 490.26,78.28 492.68,78.39 495.10,78.50 497.52,78.63 499.94,78.77 502.36,78.93 504.78,79.09 507.20,79.27 509.62,79.47 512.04,79.68 514.46,79.91 516.88,80.16 519.30,80.44 521.72,80.73 524.14,81.06 526.56,81.41 528.98,81.78 531.40,82.19 533.82,82.64 536.24,83.11 538.66,83.63 541.08,84.19 543.50,84.79 545.92,85.44 548.34,86.14 550.76,86.89 553.18,87.70 555.61,88.56 558.03,89.49 560.45,90.48 562.87,91.54 565.29,92.66 567.71,93.86 570.13,95.13 572.55,96.47 574.97,97.90 577.39,99.40 579.81,100.97 582.23,102.63 584.65,104.36 587.07,106.16 589.49,108.04 591.91,109.98 594.33,111.99 596.75,114.06 599.17,116.19 601.59,118.36 604.01,120.58 606.43,122.83 608.85,125.10 611.27,127.40 613.69,129.70 616.11,132.00 618.53,134.30 620.95,136.57 623.37,138.82 625.79,141.04 628.21,143.22 630.63,145.35 633.05,147.42 635.47,149.44 637.89,151.39 640.31,153.27 642.73,155.08 645.15,156.82 647.57,158.48 649.99,160.06 652.41,161.57 654.83,163.00 657.25,164.35 659.67,165.62 662.09,166.83 664.51,167.96 666.93,169.02 669.35,170.01 671.77,170.95 674.19,171.82 676.61,172.63 679.03,173.38 681.45,174.08 683.87,174.74 686.29,175.34 688.71,175.91 691.13,176.43 693.55,176.91 695.97,177.35 698.39,177.77 700.82,178.15 703.24,178.50 705.66,178.82 708.08,179.12 710.50,179.39 712.92,179.65 715.34,179.88 717.76,180.10 720.18,180.29 722.60,180.47 725.02,180.64 727.44,180.80 729.86,180.94 732.28,181.07 734.70,181.18 737.12,181.29 739.54,181.39 741.96,181.49 744.38,181.57 746.80,181.65 749.22,181.72 751.64,181.79 754.06,181.85 756.48,181.90 758.90,181.95 761.32,182.00 763.74,182.04 766.16,182.08 768.58,182.11 771.00,182.15" fill="none" stroke="#e8283c" stroke-width="1.1"/>
<polyline points="483.00,72.17 485.42,72.28 487.84,72.40 490.26,72.52 492.68,72.66 495.10,72.81 497.52,72.98 499.94,73.16 502.36,73.36 504.78,73.57 507.20,73.80 509.62,74.06 512.04,74.33 514.46,74.64 516.88,74.96 519.30,75.32 521.72,75.71 524.14,76.13 526.56,76.58 528.98,77.08 531.40,77.62 533.82,78.20 536.24,78.83 538.66,79.51 541.08,80.25 543.50,81.05 545.92,81.91 548.34,82.84 550.76,83.84 553.18,84.92 555.61,86.08 558.03,87.32 560.45,88.66 562.87,90.08 565.29,91.61 567.71,93.23 570.13,94.96 572.55,96.80 574.97,98.74 577.39,100.80 579.81,102.97 582.23,105.25 584.65,107.65 587.07,110.16 589.49,112.77 591.91,115.49 594.33,118.31 596.75,121.22 599.17,124.22 601.59,127.30 604.01,130.45 606.43,133.65 608.85,136.91 611.27,140.19 613.69,143.51 616.11,146.83 618.53,150.14 620.95,153.45 623.37,156.72 625.79,159.95 628.21,163.13 630.63,166.25 633.05,169.29 635.47,172.25 637.89,175.12 640.31,177.90 642.73,180.57 645.15,183.14 647.57,185.59 649.99,187.94 652.41,190.17 654.83,192.29 657.25,194.29 659.67,196.19 662.09,197.98 664.51,199.66 666.93,201.24 669.35,202.71 671.77,204.10 674.19,205.39 676.61,206.59 679.03,207.71 681.45,208.76 683.87,209.72 686.29,210.62 688.71,211.46 691.13,212.23 693.55,212.94 695.97,213.60 698.39,214.21 700.82,214.77 703.24,215.29 705.66,215.76 708.08,216.20 710.50,216.61 712.92,216.98 715.34,217.32 717.76,217.64 720.18,217.93 722.60,218.19 725.02,218.44 727.44,218.66 729.86,218.87 732.28,219.06 734.70,219.23 737.12,219.39 739.54,219.54 741.96,219.67 744.38,219.79 746.80,219.90 749.22,220.01 751.64,220.10 754.06,220.19 756.48,220.27 758.90,220.34 761.32,220.41 763.74,220.47 766.16,220.52 768.58,220.58 771.00,220.62" fill="none" stroke="#2a2a2a" stroke-width="1.1"/>
<circle cx="624.6" cy="39.4" r="3.4" fill="#a3c1ea" stroke="#2b3d5c" stroke-width="1"/>
<rect x="621.5" y="52.4" width="6.4" height="6.4" fill="#e41f2d" stroke="#777" stroke-width="1"/>
<path d="M624.9,69.3 L628.0,75.0 L621.8,75.0 Z" fill="#fff" stroke="#222" stroke-width="1.1" stroke-linejoin="miter"/>
<text x="633.6" y="43" font-size="12.8" text-anchor="start" >Filtered air (Control)</text>
<text x="633.6" y="58.6" font-size="12.8" text-anchor="start" >Ni nanoparticles (900 μg/m<tspan font-size="10" dy="-3.4">3</tspan><tspan dy="3.4">)</tspan></text>
<text x="633.6" y="73.8" font-size="12.8" text-anchor="start" >Ni nanoparticles (150 μg/m<tspan font-size="10" dy="-3.4">3</tspan><tspan dy="3.4">)</tspan></text>
</svg></body></html>
